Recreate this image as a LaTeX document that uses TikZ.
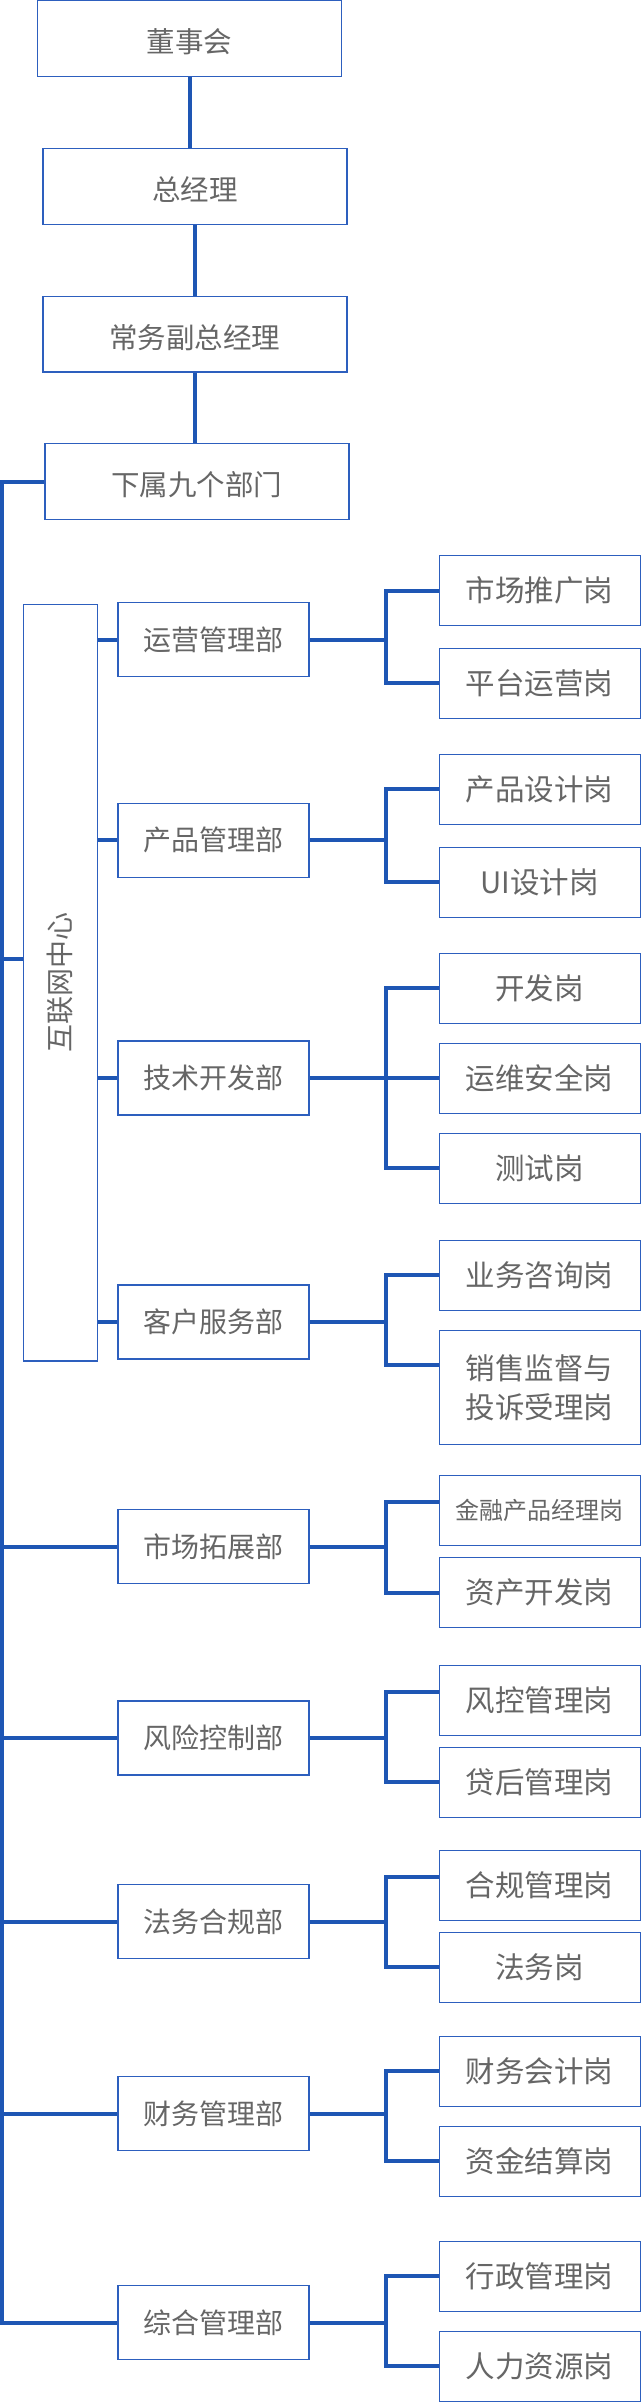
\documentclass[tikz,border=0pt]{standalone}
\usepackage{fontspec}
\setmainfont{Noto Sans CJK SC}
\definecolor{linkblue}{RGB}{30,86,180}
\definecolor{boxblue}{RGB}{45,95,190}
\definecolor{txtgray}{RGB}{102,102,102}

\tikzset{
  box/.style={draw=boxblue, line width=1.2pt, inner sep=0pt, text=txtgray},
  topbox/.style={box, minimum width=304pt, minimum height=75.7pt, text height=31.5pt, text depth=3.5pt, font=\fontsize{28.5}{34}\selectfont},
  deptbox/.style={box, minimum width=191pt, minimum height=74pt, font=\fontsize{28}{34}\selectfont},
  postbox/.style={box, minimum width=201pt, minimum height=70pt, font=\fontsize{29.5}{38.7}\selectfont},
  link/.style={draw=linkblue, line width=4pt}
}

\begin{document}
\begin{tikzpicture}[x=1pt, y=-1pt]
\useasboundingbox (0,0) rectangle (641,2402);
\def\brk{-53}

% top of the chart
\node[topbox] (dsh) at (189.6,38.4) {董事会};
\node[topbox] (zjl) at (194.9,186.5) {总经理};
\node[topbox] (cwf) at (194.9,334.2) {常务副总经理};
\node[topbox] (xs) at (196.9,481.5) {下属九个部门};

\draw[link] (dsh.south) -- (dsh.south |- zjl.north);
\draw[link] (zjl.south) -- (zjl.south |- cwf.north);
\draw[link] (cwf.south) -- (cwf.south |- xs.north);

% internet centre
\node[box, minimum width=73.8pt, minimum height=756.7pt] (hlw) at (60.4,982.7) {};
\node[text=txtgray, font=\fontsize{28}{34}\selectfont, rotate=90] (hlwtext) at (hlw.center) {互联网中心};

% departments
\node[deptbox] (yy) at (213.5,639.5) {运营管理部};
\node[deptbox] (cp) at (213.5,840.3) {产品管理部};
\node[deptbox] (js) at (213.5,1078) {技术开发部};
\node[deptbox] (kf) at (213.5,1322) {客户服务部};
\node[deptbox] (sc) at (213.5,1546.5) {市场拓展部};
\node[deptbox] (fx) at (213.5,1738) {风险控制部};
\node[deptbox] (fw) at (213.5,1921.5) {法务合规部};
\node[deptbox] (cw) at (213.5,2113.5) {财务管理部};
\node[deptbox] (zh) at (213.5,2322.5) {综合管理部};

% posts
\node[postbox] (yy1) at (539.7,590.5) {市场推广岗};
\node[postbox] (yy2) at (539.7,683.3) {平台运营岗};
\node[postbox] (cp1) at (539.7,789.3) {产品设计岗};
\node[postbox] (cp2) at (539.7,882.3) {UI设计岗};
\node[postbox] (js1) at (539.7,988.3) {开发岗};
\node[postbox] (js2) at (539.7,1078.3) {运维安全岗};
\node[postbox] (js3) at (539.7,1168.3) {测试岗};
\node[postbox] (kf1) at (539.7,1275.3) {业务咨询岗};
\node[postbox, minimum height=113.6pt, align=center] (kf2) at (539.7,1387.5) {销售监督与\\投诉受理岗};
\node[postbox, font=\fontsize{24}{30}\selectfont] (sc1) at (539.7,1510.3) {金融产品经理岗};
\node[postbox] (sc2) at (539.7,1592.5) {资产开发岗};
\node[postbox] (fx1) at (539.7,1700.3) {风控管理岗};
\node[postbox] (fx2) at (539.7,1782.3) {贷后管理岗};
\node[postbox] (fw1) at (539.7,1885.2) {合规管理岗};
\node[postbox] (fw2) at (539.7,1967.3) {法务岗};
\node[postbox] (cw1) at (539.7,2071.3) {财务会计岗};
\node[postbox] (cw2) at (539.7,2161.3) {资金结算岗};
\node[postbox] (zh1) at (539.7,2276.3) {行政管理岗};
\node[postbox] (zh2) at (539.7,2366.3) {人力资源岗};

% trunk on the left
\coordinate (trunk) at (2,0);
\draw[link] (xs.west) -- (xs.west -| trunk) -- (zh.west -| trunk) -- (zh.west);
\draw[link] ([yshift=23.7pt]hlw.west -| trunk) -- ([yshift=23.7pt]hlw.west);
\draw[link] (sc.west -| trunk) -- (sc.west);
\draw[link] (fx.west -| trunk) -- (fx.west);
\draw[link] (fw.west -| trunk) -- (fw.west);
\draw[link] (cw.west -| trunk) -- (cw.west);

% centre to its departments
\draw[link] (yy.west -| hlw.east) -- (yy.west);
\draw[link] (cp.west -| hlw.east) -- (cp.west);
\draw[link] (js.west -| hlw.east) -- (js.west);
\draw[link] (kf.west -| hlw.east) -- (kf.west);

% departments to posts
\draw[link] (yy1.west) -- ++(\brk,0) |- (yy.east);
\draw[link] (yy2.west) -- ++(\brk,0) |- (yy.east);
\draw[link] (cp1.west) -- ++(\brk,0) |- (cp.east);
\draw[link] (cp2.west) -- ++(\brk,0) |- (cp.east);
\draw[link] (js1.west) -- ++(\brk,0) |- (js.east);
\draw[link] (js2.west) -- ++(\brk,0) |- (js.east);
\draw[link] (js3.west) -- ++(\brk,0) |- (js.east);
\draw[link] (kf1.west) -- ++(\brk,0) |- (kf.east);
\draw[link] ([yshift=23pt]kf2.west) -- ++(\brk,0) |- (kf.east);
\draw[link] ([yshift=8.6pt]sc1.west) -- ++(\brk,0) |- (sc.east);
\draw[link] (sc2.west) -- ++(\brk,0) |- (sc.east);
\draw[link] ([yshift=8.6pt]fx1.west) -- ++(\brk,0) |- (fx.east);
\draw[link] (fx2.west) -- ++(\brk,0) |- (fx.east);
\draw[link] ([yshift=8pt]fw1.west) -- ++(\brk,0) |- (fw.east);
\draw[link] (fw2.west) -- ++(\brk,0) |- (fw.east);
\draw[link] (cw1.west) -- ++(\brk,0) |- (cw.east);
\draw[link] (cw2.west) -- ++(\brk,0) |- (cw.east);
\draw[link] (zh1.west) -- ++(\brk,0) |- (zh.east);
\draw[link] (zh2.west) -- ++(\brk,0) |- (zh.east);
\end{tikzpicture}
\end{document}
